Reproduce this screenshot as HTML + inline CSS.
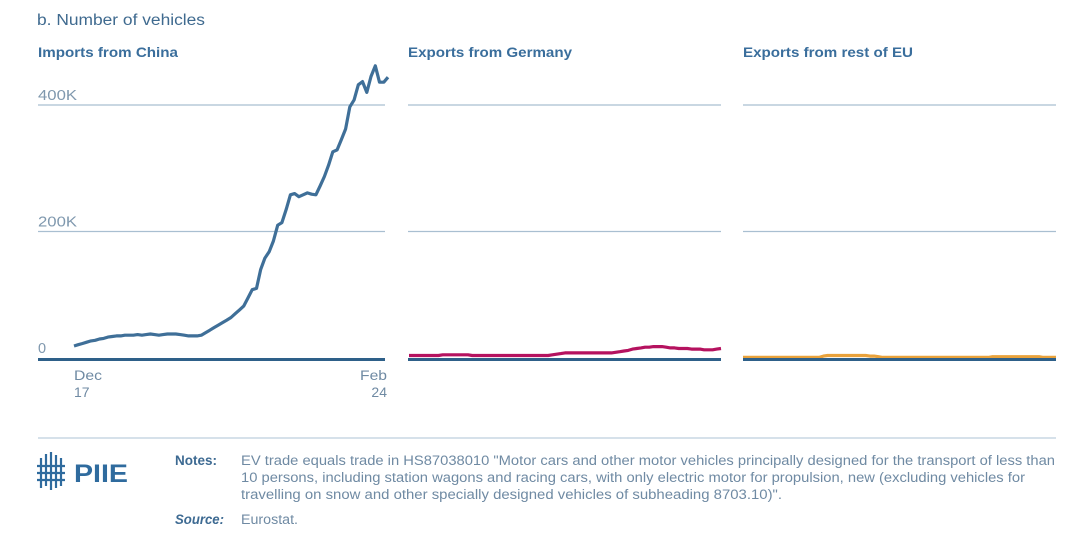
<!DOCTYPE html>
<html><head><meta charset="utf-8"><style>
body{margin:0;background:#fff;width:1080px;height:535px;overflow:hidden;font-family:"Liberation Sans",sans-serif}
svg{display:block}
</style></head><body>
<svg id="chart" width="1080" height="535">
<text x="37" y="25" font-size="15.5" fill="#3f6a8f" textLength="168" lengthAdjust="spacingAndGlyphs">b. Number of vehicles</text>
<text x="38" y="57" font-size="14" font-weight="bold" fill="#3a6e9c" textLength="140" lengthAdjust="spacingAndGlyphs">Imports from China</text>
<text x="408" y="57" font-size="14" font-weight="bold" fill="#3a6e9c" textLength="164" lengthAdjust="spacingAndGlyphs">Exports from Germany</text>
<text x="743" y="57" font-size="14" font-weight="bold" fill="#3a6e9c" textLength="170" lengthAdjust="spacingAndGlyphs">Exports from rest of EU</text>
<g id="grid"></g>
<g id="series"></g>
<text x="74" y="380" font-size="14" fill="#6f8aa3" textLength="28" lengthAdjust="spacingAndGlyphs">Dec</text>
<text x="74" y="397" font-size="14" fill="#6f8aa3">17</text>
<text x="360" y="380" font-size="14" fill="#6f8aa3" textLength="27" lengthAdjust="spacingAndGlyphs">Feb</text>
<text x="387" y="397" font-size="14" fill="#6f8aa3" text-anchor="end">24</text>
<line x1="38" y1="438" x2="1056" y2="438" stroke="#c9d7e3" stroke-width="1.5"/>
<g fill="#2f6b9e" stroke="#2f6b9e">
<g stroke-width="2.2" fill="none">
<line x1="41" y1="458" x2="41" y2="488"/><line x1="46" y1="454" x2="46" y2="486"/><line x1="51" y1="452" x2="51" y2="490"/><line x1="56" y1="455" x2="56" y2="488"/><line x1="61" y1="458" x2="61" y2="486"/>
<line x1="37" y1="466" x2="65" y2="466"/><line x1="37" y1="473" x2="65" y2="473"/><line x1="37" y1="480" x2="65" y2="480"/>
</g>
<text x="74" y="482" font-size="25" font-weight="bold" stroke="none" textLength="54" lengthAdjust="spacingAndGlyphs">PIIE</text>
</g>
<text x="175" y="465" font-size="13.5" font-weight="bold" fill="#3d6a92" textLength="42" lengthAdjust="spacingAndGlyphs">Notes:</text>
<g font-size="13.5" fill="#6f8aa3">
<text x="241" y="465" textLength="814" lengthAdjust="spacingAndGlyphs">EV trade equals trade in HS87038010 "Motor cars and other motor vehicles principally designed for the transport of less than</text>
<text x="241" y="482" textLength="784" lengthAdjust="spacingAndGlyphs">10 persons, including station wagons and racing cars, with only electric motor for propulsion, new (excluding vehicles for</text>
<text x="241" y="499" textLength="541" lengthAdjust="spacingAndGlyphs">travelling on snow and other specially designed vehicles of subheading 8703.10)".</text>
</g>
<text x="175" y="524" font-size="13.5" font-weight="bold" font-style="italic" fill="#3d6a92" textLength="49" lengthAdjust="spacingAndGlyphs">Source:</text>
<text x="241" y="524" font-size="13.5" fill="#6f8aa3" textLength="57" lengthAdjust="spacingAndGlyphs">Eurostat.</text>
</svg>
<script>
const yTicks=[0,200,400];
const yTickLabels=["0","200K","400K"];
const china=[19,21,23,25,27,28,30,31,33,34,35,35,36,36,36,37,36,37,38,37,36,37,38,38,38,37,36,35,35,35,36,40,44,48,52,56,60,64,70,76,82,95,108,110,140,158,168,185,210,214,235,258,260,255,258,261,259,258,272,287,305,326,329,345,362,397,408,432,437,420,445,462,436,436,444];
const germany=[4,4,4,4,4,4,4,4,5,5,5,5,5,5,5,4,4,4,4,4,4,4,4,4,4,4,4,4,4,4,4,4,4,4,5,6,7,8,8,8,8,8,8,8,8,8,8,8,8,9,10,11,12,14,15,16,17,17,18,18,18,17,16,16,15,15,15,14,14,14,13,13,13,14,15];
const restEU=[1,1,1,1,1,1,1,1,1,1,1,1,1,1,1,1,1,1,1,3,4,4,4,4,4,4,4,4,4,4,3,3,2,1,1,1,1,1,1,1,1,1,1,1,1,1,1,1,1,1,1,1,1,1,1,1,1,1,1,2,2,2,2,2,2,2,2,2,2,2,2,1,1,1,1];
const panels=[{x0:38,x1:385,dx0:74,dx1:388,data:china,color:"#3f6f98",name:"china-line",labels:true},
{x0:408,x1:721,dx0:409,dx1:721,data:germany,color:"#b5125f",name:"germany-line",labels:false},
{x0:743,x1:1056,dx0:743,dx1:1056,data:restEU,color:"#e9a23b",name:"rest-eu-line",labels:false}];
const NS="http://www.w3.org/2000/svg";
function yScale(v){return 358-v*(253/400);}
const grid=document.getElementById('grid'),ser=document.getElementById('series');
panels.forEach(p=>{
  yTicks.forEach((t,i)=>{
    if(t>0){const l=document.createElementNS(NS,'line');
    l.setAttribute('x1',p.x0);l.setAttribute('x2',p.x1);l.setAttribute('y1',yScale(t));l.setAttribute('y2',yScale(t));
    l.setAttribute('stroke','#a9bfd1');l.setAttribute('stroke-width','1.3');
    
    
    grid.appendChild(l);}
    if(p.labels){const tx=document.createElementNS(NS,'text');
    tx.setAttribute('x',38);tx.setAttribute('y',yScale(t)-5);tx.setAttribute('font-size','14.5');tx.setAttribute('fill','#7f98ae');
    if(t>0){tx.setAttribute('textLength','39');tx.setAttribute('lengthAdjust','spacingAndGlyphs');}
    tx.textContent=yTickLabels[i];
    
    
    grid.appendChild(tx);}
  });
  const n=p.data.length;
  const xs=i=>p.dx0+(p.dx1-p.dx0)*i/(n-1);
  const pl=document.createElementNS(NS,'polyline');
  pl.setAttribute('points',p.data.map((v,i)=>xs(i).toFixed(1)+','+yScale(v).toFixed(1)).join(' '));
  pl.setAttribute('fill','none');pl.setAttribute('stroke',p.color);pl.setAttribute('stroke-width','3.2');pl.setAttribute('stroke-linejoin','round');
  
  
  ser.appendChild(pl);
  const b=document.createElementNS(NS,'line');
  b.setAttribute('x1',p.x0);b.setAttribute('x2',p.x1);b.setAttribute('y1',359.5);b.setAttribute('y2',359.5);
  b.setAttribute('stroke','#2e6089');b.setAttribute('stroke-width','3');
  
  
  ser.appendChild(b);
});
</script>
</body></html>
